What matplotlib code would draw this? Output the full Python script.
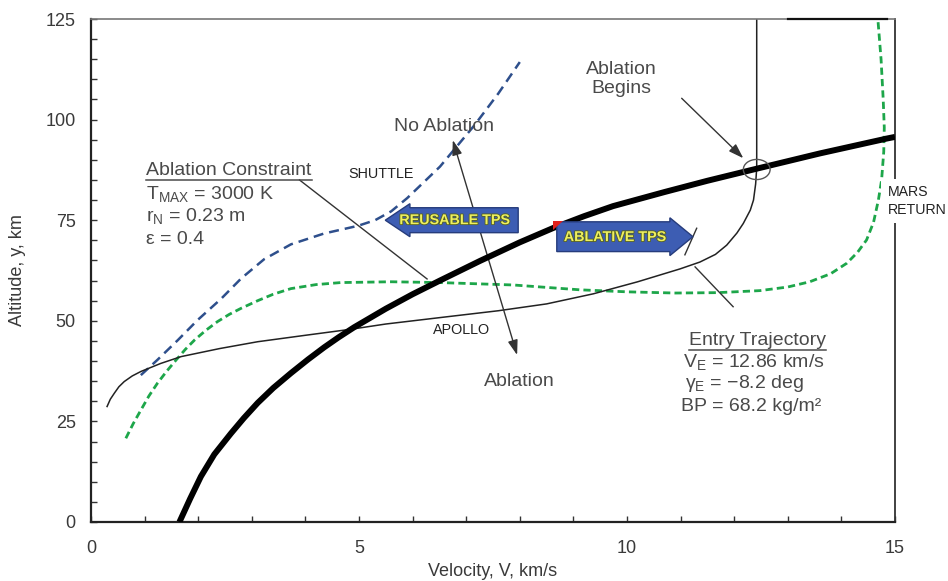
import matplotlib
matplotlib.use("Agg")
import matplotlib.pyplot as plt
from matplotlib import font_manager as fm
from matplotlib.patches import FancyArrow, Ellipse, Polygon
import matplotlib.patheffects as pe

# ---------------- data ----------------
# Ablation constraint (thick black)
abl_v = [1.65, 1.85, 2.05, 2.30, 2.61, 2.85, 3.11, 3.40, 3.73, 4.05, 4.35, 4.62, 4.91,
         5.50, 6.00, 6.51, 7.26, 8.00, 8.63, 9.20, 9.74, 10.70, 11.50, 12.42, 13.60, 14.85, 15.00]
abl_h = [0.0, 5.8, 11.3, 16.8, 22.0, 25.8, 29.6, 33.3, 37.0, 40.4, 43.4, 45.9, 48.4,
         53.0, 56.6, 60.0, 64.9, 69.5, 73.1, 76.0, 78.5, 82.0, 84.8, 87.8, 91.6, 95.3, 95.7]

# Apollo entry trajectory (thin black)
apo_v = [0.30, 0.36, 0.435, 0.52, 0.62, 0.77, 0.93, 1.30, 1.68, 2.40, 3.11, 4.00, 4.85, 5.50,
         6.64, 7.60, 8.50, 9.37, 10.20, 10.99, 11.36, 11.65, 11.86, 12.05, 12.17, 12.30,
         12.36, 12.40, 12.42, 12.42]
apo_h = [28.7, 30.5, 32.0, 33.6, 34.9, 36.3, 37.4, 39.4, 41.1, 43.1, 44.8, 46.4, 47.9, 49.2,
         51.0, 52.5, 54.2, 56.7, 59.7, 62.9, 64.6, 66.5, 68.8, 71.8, 74.2, 77.5,
         80.0, 84.0, 88.0, 125.0]

# Shuttle (blue dashed)
shu_v = [0.93, 1.24, 1.62, 1.99, 2.43, 2.80, 3.23, 3.73, 4.35, 4.98, 5.30, 5.60, 5.90,
         6.51, 7.16, 7.60, 8.00]
shu_h = [36.5, 40.3, 45.2, 50.2, 55.5, 60.5, 65.3, 69.0, 71.7, 73.6, 75.0, 77.2, 80.5,
         88.3, 98.7, 106.5, 114.3]

# Mars return (green dashed)
mars_v = [0.65, 0.79, 0.93, 1.08, 1.24, 1.42, 1.59, 1.76, 1.93, 2.14, 2.36, 2.58, 2.80, 3.11,
          3.40, 3.73, 4.20, 4.66, 5.60, 6.51, 7.88, 9.12, 10.00, 10.90, 11.70, 12.48, 13.00,
          13.41, 13.80, 14.10, 14.30, 14.47, 14.60, 14.69, 14.75, 14.79, 14.80, 14.78, 14.74, 14.68]
mars_h = [20.8, 24.5, 27.8, 31.3, 34.5, 37.6, 40.3, 42.9, 45.2, 47.6, 49.8, 51.6, 53.1, 55.0,
          56.6, 58.0, 59.0, 59.5, 59.7, 59.5, 58.9, 57.7, 57.2, 56.9, 57.0, 57.5, 58.4,
          59.7, 61.7, 64.3, 67.0, 70.1, 74.5, 80.0, 85.0, 92.0, 98.0, 105.0, 115.0, 125.0]

x_ticks = [0, 5, 10, 15]
y_ticks = [0, 25, 50, 75, 100, 125]

# ---------------- fonts ----------------
def has_font(name):
    try:
        fm.findfont(fm.FontProperties(family=name), fallback_to_default=False)
        return True
    except Exception:
        return False

SANS = "Liberation Sans"
if has_font("Liberation Sans Narrow"):
    NARROW, nscale = "Liberation Sans Narrow", 1.0
else:
    NARROW, nscale = "Liberation Sans", 0.86

plt.rcParams["font.family"] = [SANS, "DejaVu Sans"]
plt.rcParams["mathtext.fontset"] = "custom"
plt.rcParams["mathtext.rm"] = SANS
plt.rcParams["mathtext.it"] = SANS + ":italic"
plt.rcParams["mathtext.bf"] = SANS + ":bold"

GREY = "#4a4a4a"
DARK = "#222222"

fig = plt.figure(figsize=(9.48, 5.81), dpi=100)
W, H = 948, 581
ax = fig.add_axes([91 / W, (H - 522) / H, (895 - 91) / W, (522 - 19) / H])
ax.set_xlim(0, 15)
ax.set_ylim(0, 125)

# ---------------- curves ----------------
ax.plot(mars_v, mars_h, color="#1da64a", lw=2.0, dashes=(2.6, 1.5), zorder=2)
ax.plot(shu_v, shu_h, color="#2e4f8c", lw=1.8, dashes=(4.0, 2.4), zorder=2)
ax.plot(apo_v, apo_h, color=DARK, lw=1.1, zorder=2.2)
ax.plot(abl_v, abl_h, color="black", lw=4.3, solid_capstyle="butt",
        solid_joinstyle="round", zorder=3)

# Ablation-begins circle
ax.add_patch(Ellipse((12.42, 87.6), 0.50, 5.0, fill=False, ec="#555555", lw=1.0, zorder=3.5))

# ---------------- leader lines / arrows ----------------
ax.plot([3.89, 6.27], [85.0, 60.4], color="#333333", lw=1.0, zorder=2.5)      # ablation constraint
ax.plot([11.27, 11.98], [63.4, 53.5], color="#333333", lw=1.0, zorder=2.5)    # entry trajectory
ax.plot([11.08, 11.30], [66.4, 73.0], color="#333333", lw=1.0, zorder=2.5)    # small tick near arrow
ax.plot([13.0, 14.85], [125, 125], color="#111111", lw=1.6, clip_on=False, zorder=3)
ax.annotate("", xy=(6.75, 94.9), xytext=(7.95, 41.5),
            arrowprops=dict(arrowstyle="<|-|>,head_length=0.9,head_width=0.3",
                            color="#333333", lw=1.0, shrinkA=0, shrinkB=0), zorder=2.5)
ax.annotate("", xy=(12.17, 90.4), xytext=(11.02, 105.3),
            arrowprops=dict(arrowstyle="-|>,head_length=0.9,head_width=0.3",
                            color="#333333", lw=1.0, shrinkA=0, shrinkB=0), zorder=2.5)

# ---------------- block arrows ----------------
BFILL, BEDGE = "#3d5db3", "#263c7c"
ax.add_patch(FancyArrow(7.97, 75.0, -(7.97 - 5.49), 0, width=6.2, head_width=8.2,
                        head_length=0.46, length_includes_head=True,
                        fc=BFILL, ec=BEDGE, lw=1.0, zorder=4))
ax.add_patch(FancyArrow(8.69, 70.9, 11.23 - 8.69, 0, width=7.4, head_width=9.4,
                        head_length=0.43, length_includes_head=True,
                        fc=BFILL, ec=BEDGE, lw=1.0, zorder=4))
ax.add_patch(Polygon([(8.62, 72.6), (8.62, 74.9), (8.80, 74.9)], closed=True,
                     fc="#e0201c", ec="none", zorder=4.5))
shadow = [pe.withStroke(linewidth=1.2, foreground="#556020")]
ax.text(6.79, 75.0, "REUSABLE TPS", ha="center", va="center", color="#eef060",
        fontsize=12 * nscale, fontweight="bold", family=[NARROW, SANS], zorder=5,
        path_effects=shadow)
ax.text(9.78, 70.8, "ABLATIVE TPS", ha="center", va="center", color="#eef060",
        fontsize=12 * nscale, fontweight="bold", family=[NARROW, SANS], zorder=5,
        path_effects=shadow)

# ---------------- text annotations ----------------
FS = 14
t_ac = ax.text(1.03, 87.4, "Ablation Constraint", ha="left", va="center", fontsize=FS, color=GREY)
ax.text(1.03, 81.5, r"T$_\mathrm{MAX}$ = 3000 K", ha="left", va="center", fontsize=FS, color=GREY)
ax.text(1.03, 76.0, r"r$_\mathrm{N}$ = 0.23 m", ha="left", va="center", fontsize=FS, color=GREY)
ax.text(1.03, 70.1, "ε = 0.4", ha="left", va="center", fontsize=FS, color=GREY)

ax.text(6.59, 98.4, "No Ablation", ha="center", va="center", fontsize=FS, color=GREY)
ax.text(7.99, 34.8, "Ablation", ha="center", va="center", fontsize=FS, color=GREY)
ax.text(9.89, 110.0, "Ablation\nBegins", ha="center", va="center", fontsize=FS,
        color=GREY, linespacing=1.15)

ax.text(5.41, 86.4, "SHUTTLE", ha="center", va="center", fontsize=12 * nscale,
        color=DARK, family=[NARROW, SANS])
ax.text(6.92, 47.7, "APOLLO", ha="center", va="center", fontsize=12 * nscale,
        color=DARK, family=[NARROW, SANS])
ax.text(14.86, 79.8, "MARS\nRETURN", ha="left", va="center", fontsize=11.8 * nscale,
        color=DARK, family=[NARROW, SANS], linespacing=1.3, clip_on=False, zorder=6,
        bbox=dict(boxstyle="square,pad=0.45", fc="white", ec="none"))

t_et = ax.text(12.43, 45.2, "Entry Trajectory", ha="center", va="center", fontsize=FS, color=GREY)
ax.text(12.36, 39.8, r"V$_\mathrm{E}$ = 12.86 km/s", ha="center", va="center", fontsize=FS, color=GREY)
ax.text(12.20, 34.3, r"γ$_\mathrm{E}$ = −8.2 deg", ha="center", va="center", fontsize=FS, color=GREY)
ax.text(12.32, 28.8, "BP = 68.2 kg/m²", ha="center", va="center", fontsize=FS, color=GREY)

# ---------------- axes styling ----------------
ax.set_xticks(x_ticks)
ax.set_yticks(y_ticks)
ax.set_xticks(range(0, 16), minor=True)
ax.set_yticks(range(0, 126, 5), minor=True)
ax.tick_params(which="both", direction="in", color="#333333", width=1.0,
               top=False, right=False)
ax.tick_params(which="major", length=4.5)
ax.tick_params(which="minor", length=4.0)
ax.tick_params(axis="x", which="major", pad=13, labelsize=13, labelcolor="#3a3a3a")
ax.tick_params(axis="y", which="major", pad=11, labelsize=13, labelcolor="#3a3a3a")
for s in ("left", "bottom"):
    ax.spines[s].set_color("#222222")
    ax.spines[s].set_linewidth(1.6)
ax.spines["top"].set_color("#777777")
ax.spines["top"].set_linewidth(1.2)
ax.spines["right"].set_color("#333333")
ax.spines["right"].set_linewidth(1.3)

fig.text(493 / W, 1 - 571 / H, "Velocity, V, km/s", ha="center", va="center",
         fontsize=13, color="#3a3a3a")
fig.text(18 / W, 1 - 270 / H, "Altitude, y, km", ha="center", va="center",
         rotation=90, fontsize=13, color="#3a3a3a")

# underlines under the two titles
fig.canvas.draw()
inv = ax.transData.inverted()
for t in (t_ac, t_et):
    bb = t.get_window_extent()
    (x0, y0), (x1, _) = inv.transform([(bb.x0, bb.y0 - 1), (bb.x1, bb.y0)])
    ax.plot([x0, x1], [y0, y0], color=GREY, lw=1.1, zorder=5)

fig.savefig("out.png", dpi=100)
